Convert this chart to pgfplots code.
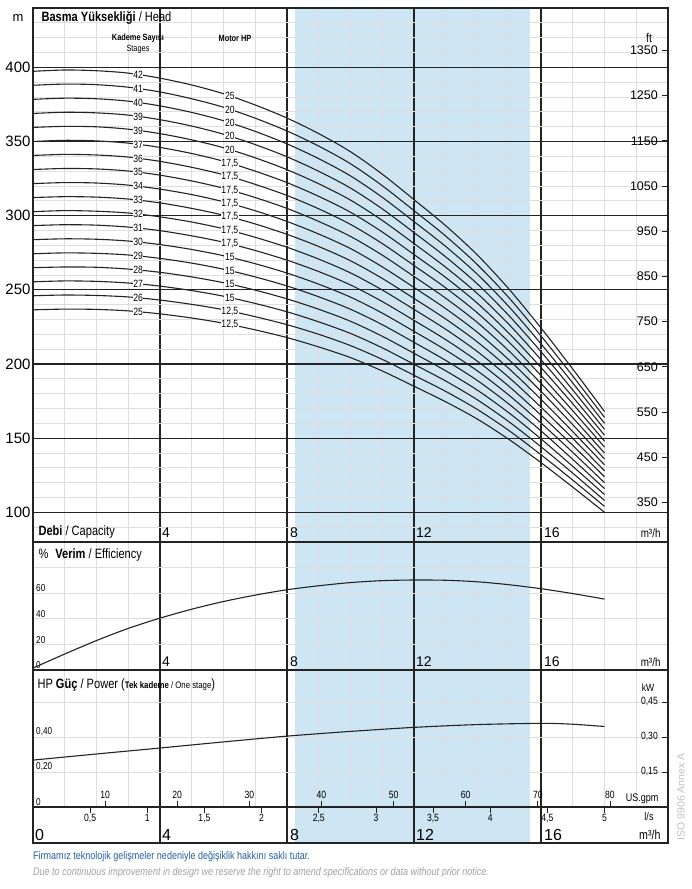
\documentclass[border=0pt]{standalone}
\usepackage{pgfplots}
\pgfplotsset{compat=1.18}
\usepackage{pgfplotstable}
\usepackage{fontspec}
\setmainfont{Liberation Sans}
\newfontfamily\cond{Liberation Sans}[FakeStretch=0.82]

\definecolor{band}{RGB}{206,230,243}
\definecolor{gridlight}{RGB}{222,222,222}
\definecolor{griddark}{RGB}{35,35,35}
\definecolor{footblue}{RGB}{35,95,160}
\definecolor{footgray}{RGB}{160,160,160}

% head per pump, m, one column per number of stages
\pgfplotstableread{
Q  s42   s41   s40   s39   s38   s37   s36   s35   s34   s33   s32   s31   s30   s29   s28   s27   s26   s25
0  397.3 387.9 378.4 368.9 359.5 350.0 340.6 331.1 321.6 312.2 302.7 293.3 283.8 274.3 264.9 255.4 246.0 236.5
1  398.2 388.7 379.2 369.7 360.2 350.8 341.3 331.8 322.3 312.8 303.4 293.9 284.4 274.9 265.4 256.0 246.5 237.0
2  397.7 388.3 378.8 369.3 359.9 350.4 340.9 331.5 322.0 312.5 303.0 293.6 284.1 274.6 265.2 255.7 246.2 236.8
3  396.1 386.6 377.2 367.8 358.3 348.9 339.5 330.1 320.6 311.2 301.8 292.3 282.9 273.5 264.0 254.6 245.2 235.8
4  392.7 383.4 374.0 364.7 355.3 346.0 336.6 327.3 317.9 308.6 299.2 289.9 280.5 271.2 261.8 252.5 243.1 233.8
5  388.1 378.8 369.6 360.4 351.1 341.9 332.6 323.4 314.2 304.9 295.7 286.4 277.2 268.0 258.7 249.5 240.2 231.0
6  382.2 373.1 364.0 354.9 345.8 336.7 327.6 318.5 309.4 300.3 291.2 282.1 273.0 263.9 254.8 245.7 236.6 227.5
7  374.6 365.7 356.8 347.9 339.0 330.0 321.1 312.2 303.3 294.4 285.4 276.5 267.6 258.7 249.8 240.8 231.9 223.0
8  365.8 357.1 348.4 339.7 331.0 322.3 313.6 304.9 296.1 287.4 278.7 270.0 261.3 252.6 243.9 235.2 226.5 217.8
9  355.3 346.9 338.4 329.9 321.5 313.0 304.6 296.1 287.6 279.2 270.7 262.3 253.8 245.3 236.9 228.4 220.0 211.5
10 343.1 335.0 326.8 318.6 310.5 302.3 294.1 286.0 277.8 269.6 261.4 253.3 245.1 236.9 228.8 220.6 212.4 204.3
11 328.0 320.2 312.4 304.6 296.8 289.0 281.2 273.4 265.5 257.7 249.9 242.1 234.3 226.5 218.7 210.9 203.1 195.3
12 310.8 303.4 296.0 288.6 281.2 273.8 266.4 259.0 251.6 244.2 236.8 229.4 222.0 214.6 207.2 199.8 192.4 185.0
13 293.2 286.2 279.2 272.2 265.2 258.3 251.3 244.3 237.3 230.3 223.4 216.4 209.4 202.4 195.4 188.5 181.5 174.5
14 273.4 266.9 260.4 253.9 247.4 240.9 234.4 227.9 221.3 214.8 208.3 201.8 195.3 188.8 182.3 175.8 169.3 162.8
15 250.3 244.4 238.4 232.4 226.5 220.5 214.6 208.6 202.6 196.7 190.7 184.8 178.8 172.8 166.9 160.9 155.0 149.0
16 224.3 218.9 213.6 208.3 202.9 197.6 192.2 186.9 181.6 176.2 170.9 165.5 160.2 154.9 149.5 144.2 138.8 133.5
17 196.6 191.9 187.2 182.5 177.8 173.2 168.5 163.8 159.1 154.4 149.8 145.1 140.4 135.7 131.0 126.4 121.7 117.0
18 168.0 164.0 160.0 156.0 152.0 148.0 144.0 140.0 136.0 132.0 128.0 124.0 120.0 116.0 112.0 108.0 104.0 100.0
}\headtab

\pgfplotsset{
  panel/.style={
    scale only axis, width=635pt, anchor=south west,
    xmin=0, xmax=20,
    axis line style={line width=1.4pt, griddark},
    xtick={4,8,12,16}, xticklabels={},
    major tick length=0pt, minor tick length=0pt,
    xmajorgrids,
    major x grid style={line width=1.3pt, griddark},
    /pgf/number format/assume math mode=true,
    /pgf/number format/1000 sep={},
  },
  minorx/.style={
    minor xtick={1,2,3,5,6,7,9,10,11,13,14,15,17,18,19},
    xminorgrids, minor x grid style={line width=0.8pt, gridlight},
  },
  overlay/.style={
    scale only axis, width=635pt, anchor=south west,
    axis line style={draw=none}, tick align=inside,
    major tick length=6pt, tick style={griddark, line width=0.8pt},
    /pgf/number format/assume math mode=true,
    /pgf/number format/1000 sep={},
  },
  curve/.style={griddark, line width=1.1pt, smooth, no marks},
}
\tikzset{stg/.style={fill=white, inner sep=0.6pt, font=\cond\fontsize{10.5}{10.5}\selectfont}}

\begin{document}
\begin{tikzpicture}
\useasboundingbox (0pt,0pt) rectangle (692pt,889pt);

% ---- recommended range, behind all panels
\begin{axis}[scale only axis, width=635pt, height=835pt, anchor=south west, at={(33pt,46pt)},
  xmin=0, xmax=20, ymin=0, ymax=1, hide axis]
\addplot[fill=band, draw=none] coordinates {(8.25,0) (15.65,0) (15.65,1) (8.25,1)} -- cycle;
\end{axis}

% ---- head
\begin{axis}[panel, minorx, at={(33pt,347pt)}, height=534pt,
  ymin=80, ymax=440,
  ytick={100,150,...,400},
  minor ytick={90,110,120,130,140,160,170,180,190,210,220,230,240,260,270,280,290,310,320,330,340,360,370,380,390,410,420,430},
  ymajorgrids, yminorgrids,
  major y grid style={line width=1.3pt, griddark},
  minor y grid style={line width=0.8pt, gridlight},
  yticklabel style={font=\fontsize{15}{15}\selectfont, xshift=1pt},
]
\pgfplotsinvokeforeach{42,41,40,39,38,37,36,35,34,33,32,31,30,29,28,27,26,25}{
  \addplot[curve] table[x=Q, y=s#1] {\headtab};
}
\node[stg] at (axis cs:3.31,395.0) {42};
\node[stg] at (axis cs:3.31,385.6) {41};
\node[stg] at (axis cs:3.31,376.2) {40};
\node[stg] at (axis cs:3.31,366.8) {39};
\node[stg] at (axis cs:3.31,357.4) {39};
\node[stg] at (axis cs:3.31,348.0) {37};
\node[stg] at (axis cs:3.31,338.6) {36};
\node[stg] at (axis cs:3.31,329.2) {35};
\node[stg] at (axis cs:3.31,319.8) {34};
\node[stg] at (axis cs:3.31,310.4) {33};
\node[stg] at (axis cs:3.31,301.0) {32};
\node[stg] at (axis cs:3.31,291.6) {31};
\node[stg] at (axis cs:3.31,282.2) {30};
\node[stg] at (axis cs:3.31,272.7) {29};
\node[stg] at (axis cs:3.31,263.3) {28};
\node[stg] at (axis cs:3.31,253.9) {27};
\node[stg] at (axis cs:3.31,244.5) {26};
\node[stg] at (axis cs:3.31,235.1) {25};
\node[stg] at (axis cs:6.2,380.7) {25};
\node[stg] at (axis cs:6.2,371.6) {20};
\node[stg] at (axis cs:6.2,362.6) {20};
\node[stg] at (axis cs:6.2,353.5) {20};
\node[stg] at (axis cs:6.2,344.4) {20};
\node[stg] at (axis cs:6.2,335.4) {17,5};
\node[stg] at (axis cs:6.2,326.3) {17,5};
\node[stg] at (axis cs:6.2,317.2) {17,5};
\node[stg] at (axis cs:6.2,308.2) {17,5};
\node[stg] at (axis cs:6.2,299.1) {17,5};
\node[stg] at (axis cs:6.2,290.0) {17,5};
\node[stg] at (axis cs:6.2,281.0) {17,5};
\node[stg] at (axis cs:6.2,271.9) {15};
\node[stg] at (axis cs:6.2,262.9) {15};
\node[stg] at (axis cs:6.2,253.8) {15};
\node[stg] at (axis cs:6.2,244.7) {15};
\node[stg] at (axis cs:6.2,235.7) {12,5};
\node[stg] at (axis cs:6.2,226.6) {12,5};
\end{axis}

% head in ft
\begin{axis}[overlay, at={(33pt,347pt)}, height=534pt,
  xmin=0, xmax=20, ymin=262.467, ymax=1443.570,
  hide x axis, axis y line*=right,
  ytick={350,450,...,1350},
  yticklabel style={anchor=east, xshift=-9pt, inner sep=1pt, font=\fontsize{12.5}{12.5}\selectfont},
]
\end{axis}

% ---- efficiency
\begin{axis}[panel, minorx, at={(33pt,219pt)}, height=128pt,
  ymin=0, ymax=100,
  ytick={0,20,40,60,80}, yticklabels={0,20,40,60,{}},
  ymajorgrids, major y grid style={line width=0.8pt, gridlight},
  yticklabel style={anchor=south west, inner sep=1pt, xshift=2pt, font=\cond\fontsize{10}{10}\selectfont},
]
\addplot[curve] coordinates {
  (0,1.5) (1,12.5) (2,23) (3,32.5) (4,40.5) (5,47.5) (6,53.5) (7,58.5)
  (8,62.7) (9,65.8) (10,68.3) (11,69.8) (12,70.3) (13,70.1) (14,68.9)
  (15,66.6) (16,63.5) (17,59.7) (18,55.4)
};
\end{axis}

% ---- power, one stage
\begin{axis}[panel, minorx, at={(33pt,82pt)}, height=137pt,
  ymin=0, ymax=0.7829,
  ytick={0,0.2,0.4,0.6}, yticklabels={0,{0,20},{0,40},{}},
  ymajorgrids, major y grid style={line width=0.8pt, gridlight},
  yticklabel style={anchor=south west, inner sep=1pt, xshift=2pt, font=\cond\fontsize{10}{10}\selectfont},
]
\addplot[curve] coordinates {
  (0,0.268) (2,0.303) (4,0.337) (6,0.372) (8,0.405) (10,0.432)
  (12,0.455) (14,0.471) (16,0.478) (17,0.473) (18,0.460)
};
\end{axis}

% power in kW
\begin{axis}[overlay, at={(33pt,82pt)}, height=137pt,
  xmin=0, xmax=20, ymin=0, ymax=0.5871,
  hide x axis, axis y line*=right,
  ytick={0.15,0.30,0.45}, yticklabels={{0,15},{0,30},{0,45}},
  yticklabel style={anchor=east, xshift=-9pt, inner sep=1pt, font=\cond\fontsize{10.5}{10.5}\selectfont},
]
\end{axis}

% US gpm
\begin{axis}[overlay, at={(33pt,82pt)}, height=137pt,
  xmin=0, xmax=88.057, ymin=0, ymax=1,
  axis x line*=bottom, axis y line=none,
  xtick={10,20,30,40,50,60,70,80},
  xticklabel style={anchor=south, yshift=7pt, inner sep=1pt, font=\cond\fontsize{10.5}{10.5}\selectfont},
]
\end{axis}

% ---- bottom scale row
\begin{axis}[panel, at={(33pt,46pt)}, height=36pt,
  ymin=0, ymax=1, ytick=\empty,
]
\end{axis}

% l/s
\begin{axis}[overlay, at={(33pt,46pt)}, height=36pt,
  xmin=0, xmax=5.5556, ymin=0, ymax=1,
  axis x line*=top, axis y line=none,
  xtick={0.5,1,1.5,2,2.5,3,3.5,4,4.5,5},
  xticklabels={{0,5},1,{1,5},2,{2,5},3,{3,5},4,{4,5},5},
  xticklabel style={anchor=north, yshift=-6pt, inner sep=1pt, font=\cond\fontsize{10.5}{10.5}\selectfont},
]
\end{axis}

% ---- texts
\begin{scope}[x=1pt, y=1pt]
\node[font=\fontsize{13}{13}\selectfont] at (18,871) {m};
\node[anchor=west, font=\cond\fontsize{13.5}{13.5}\selectfont] at (38,871) {\textbf{Basma Yüksekliği} / Head};
\node[font=\cond\bfseries\fontsize{9}{9}\selectfont] at (138,851) {Kademe Sayısı};
\node[font=\cond\fontsize{9}{9}\selectfont] at (138,840) {Stages};
\node[font=\cond\bfseries\fontsize{9}{9}\selectfont] at (235,851) {Motor HP};
\node[font=\cond\fontsize{12.5}{12.5}\selectfont] at (649,851) {ft};

\node[anchor=west, font=\cond\fontsize{13.5}{13.5}\selectfont] at (35,357) {\textbf{Debi} / Capacity};
\foreach \x/\t in {162/4,290/8,416/12,544/16} {
  \node[anchor=west, inner sep=0pt, font=\fontsize{14}{14}\selectfont] at (\x,356) {\t};
  \node[anchor=west, inner sep=0pt, font=\fontsize{14}{14}\selectfont] at (\x,227) {\t};
}
\node[anchor=east, font=\cond\fontsize{12}{12}\selectfont] at (664,356) {m³/h};
\node[anchor=east, font=\cond\fontsize{12}{12}\selectfont] at (664,227) {m³/h};

\node[anchor=west, font=\cond\fontsize{13.5}{13.5}\selectfont] at (35,334) {\%\hspace{7pt}\textbf{Verim} / Efficiency};
\node[anchor=west, font=\cond\fontsize{13.5}{13.5}\selectfont] at (34,204)
  {HP \textbf{Güç} / Power ({\fontsize{9.5}{9.5}\selectfont\textbf{Tek kademe} / One stage})};
\node[font=\cond\fontsize{10.5}{10.5}\selectfont] at (648,201) {kW};
\node[anchor=east, font=\cond\fontsize{11}{11}\selectfont] at (662,90) {US.gpm};
\node[font=\cond\fontsize{11}{11}\selectfont] at (649,72) {l/s};

\foreach \x/\t in {35/0,162/4,290/8,416/12,544/16} {
  \node[anchor=west, inner sep=0pt, font=\fontsize{16}{16}\selectfont] at (\x,54) {\t};
}
\node[anchor=east, font=\cond\fontsize{13}{13}\selectfont] at (664,54) {m³/h};

\node[anchor=west, inner sep=0pt, text=footblue, font=\cond\fontsize{11}{11}\selectfont] at (33,32)
  {Firmamız teknolojik gelişmeler nedeniyle değişiklik hakkını saklı tutar.};
\node[anchor=west, inner sep=0pt, text=footgray, font=\cond\itshape\fontsize{11}{11}\selectfont] at (33,16)
  {Due to continuous improvement in design we reserve the right to amend specifications or data without prior notice.};
\node[rotate=90, text=black!25, font=\fontsize{10.5}{10.5}\selectfont] at (681,92) {ISO 9906 Annex A};
\end{scope}
\end{tikzpicture}
\end{document}
